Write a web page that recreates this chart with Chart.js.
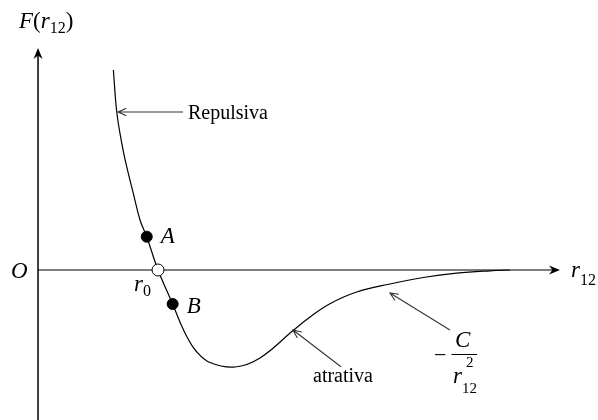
<!DOCTYPE html>
<html>
<head>
<meta charset="utf-8">
<script src="https://cdn.jsdelivr.net/npm/chart.js@4/dist/chart.umd.min.js"></script>
<style>
  body { margin: 0; background: #fff; }
  canvas { display: block; }
</style>
</head>
<body>
<canvas id="forceChart" width="598" height="420"></canvas>
<script>
// Force between two particles vs. separation (r in units of r0)
const curveR = [0.628, 0.656, 0.698, 0.739, 0.794, 0.85, 0.906, 1.0, 1.122, 1.183, 1.242, 1.317, 1.433, 1.642, 1.85, 2.128, 2.267, 2.433, 2.656, 2.933, 3.211, 3.489, 3.767, 3.933];
const curveF = [2.0, 1.583, 1.267, 1.033, 0.767, 0.5, 0.333, 0, -0.34, -0.52, -0.67, -0.81, -0.925, -0.97, -0.88, -0.603, -0.47, -0.337, -0.22, -0.14, -0.075, -0.032, -0.008, 0];

// marked positions on the curve
const markNames = ['A', 'r0', 'B'];
const markR = [0.906, 1.0, 1.122];
const markF = [0.333, 0, -0.34];

// visible window and axis extents
const rMin = -0.317, rMax = 4.667;
const fMin = -1.5, fMax = 2.7;
const rAxisEnd = 4.35, fAxisEnd = 2.22;

const serif = '"Liberation Serif", "Times New Roman", serif';

function put(ctx, parts, x, base) {
  let cx = x;
  for (const [t, size, it, dy] of parts) {
    ctx.font = (it ? 'italic ' : '') + size + 'px ' + serif;
    ctx.fillText(t, cx, base + (dy || 0));
    cx += ctx.measureText(t).width;
  }
}

function pointer(ctx, x1, y1, x2, y2) {
  const a = Math.atan2(y2 - y1, x2 - x1), L = 9, w = 0.42;
  ctx.beginPath();
  ctx.moveTo(x1, y1);
  ctx.lineTo(x2, y2);
  ctx.moveTo(x2 - L * Math.cos(a - w), y2 - L * Math.sin(a - w));
  ctx.lineTo(x2, y2);
  ctx.lineTo(x2 - L * Math.cos(a + w), y2 - L * Math.sin(a + w));
  ctx.stroke();
}

function axisHead(ctx, x, y, ang) {
  ctx.save();
  ctx.translate(x, y);
  ctx.rotate(ang);
  ctx.beginPath();
  ctx.moveTo(0, 0);
  ctx.lineTo(-11, -4.5);
  ctx.lineTo(-7.5, 0);
  ctx.lineTo(-11, 4.5);
  ctx.closePath();
  ctx.fill();
  ctx.restore();
}

const diagram = {
  id: 'diagram',
  beforeDatasetsDraw(chart) {
    const ctx = chart.ctx, sx = chart.scales.x, sy = chart.scales.y;
    const ox = sx.getPixelForValue(0), oy = sy.getPixelForValue(0);
    const xe = sx.getPixelForValue(rAxisEnd), ye = sy.getPixelForValue(fAxisEnd);
    ctx.save();
    ctx.fillStyle = '#000';
    // r12 axis
    ctx.strokeStyle = '#555';
    ctx.lineWidth = 1.5;
    ctx.beginPath();
    ctx.moveTo(ox, oy);
    ctx.lineTo(xe - 4, oy);
    ctx.stroke();
    axisHead(ctx, xe, oy, 0);
    // F axis
    ctx.strokeStyle = '#000';
    ctx.beginPath();
    ctx.moveTo(ox, sy.getPixelForValue(fMin));
    ctx.lineTo(ox, ye + 4);
    ctx.stroke();
    axisHead(ctx, ox, ye, -Math.PI / 2);
    ctx.restore();
  },
  afterDraw(chart) {
    const ctx = chart.ctx, sx = chart.scales.x, sy = chart.scales.y;
    const X = v => sx.getPixelForValue(v), Y = v => sy.getPixelForValue(v);
    ctx.save();
    ctx.fillStyle = '#000';
    ctx.textBaseline = 'alphabetic';

    // axis labels
    put(ctx, [['F', 23, true], ['(', 23, false], ['r', 23, true], ['12', 16, false, 5], [')', 23, false]], 19, 28);
    put(ctx, [['r', 23, true], ['12', 16, false, 8]], 571, 277);
    put(ctx, [['O', 23, true]], 11, 278);

    // marked points
    const ax = X(markR[0]), ay = Y(markF[0]);
    put(ctx, [['A', 23, true]], ax + 14, ay + 6);
    const bx = X(markR[2]), by = Y(markF[2]);
    put(ctx, [['B', 23, true]], bx + 14, by + 9);
    const rx = X(markR[1]), ry = Y(markF[1]);
    put(ctx, [['r', 23, true], ['0', 16, false, 5]], rx - 24, ry + 21);

    // pointers
    ctx.strokeStyle = '#333';
    ctx.lineWidth = 1.1;
    pointer(ctx, X(1.208), Y(1.58), X(0.667), Y(1.58));
    pointer(ctx, X(2.525), Y(-0.967), X(2.125), Y(-0.6));
    pointer(ctx, X(3.433), Y(-0.6), X(2.933), Y(-0.23));

    put(ctx, [['Repulsiva', 20, false]], 188, 119);
    put(ctx, [['atrativa', 20, false]], 313, 382);

    // -C / r12^2
    put(ctx, [['\u2212', 22, false]], 434, 362);
    put(ctx, [['C', 23, true]], 455, 347);
    ctx.strokeStyle = '#000';
    ctx.lineWidth = 1;
    ctx.beginPath();
    ctx.moveTo(451.5, 354.5);
    ctx.lineTo(477, 354.5);
    ctx.stroke();
    put(ctx, [['r', 23, true]], 453, 383);
    put(ctx, [['2', 15, false]], 466, 367);
    put(ctx, [['12', 15, false]], 462, 393);
    ctx.restore();
  }
};

new Chart(document.getElementById('forceChart'), {
  type: 'scatter',
  data: {
    datasets: [
      {
        label: 'pontos',
        data: markR.map((r, i) => ({ x: r, y: markF[i] })),
        pointRadius: markNames.map(n => n === 'r0' ? 6 : 5.5),
        pointBackgroundColor: markNames.map(n => n === 'r0' ? '#fff' : '#000'),
        pointBorderColor: '#000',
        pointBorderWidth: 1,
        showLine: false
      },
      {
        label: 'F(r12)',
        data: curveR.map((r, i) => ({ x: r, y: curveF[i] })),
        showLine: true,
        borderColor: '#000',
        borderWidth: 1.2,
        pointRadius: 0,
        tension: 0.4,
        fill: false
      }
    ]
  },
  options: {
    responsive: false,
    animation: false,
    devicePixelRatio: 1,
    layout: { padding: 0, autoPadding: false },
    plugins: { legend: { display: false }, tooltip: { enabled: false } },
    scales: {
      x: { type: 'linear', min: rMin, max: rMax, display: false },
      y: { type: 'linear', min: fMin, max: fMax, display: false }
    }
  },
  plugins: [diagram]
});
</script>
</body>
</html>
